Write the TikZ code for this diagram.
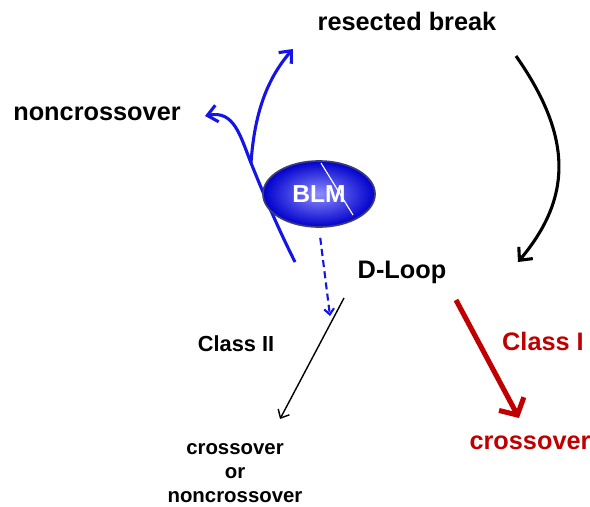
\documentclass[tikz,border=0pt]{standalone}
\usepackage{fontspec}
\setmainfont{Liberation Sans}
\usetikzlibrary{arrows.meta, shapes.geometric}

\definecolor{blmblue}{RGB}{20,20,230}
\definecolor{blmedge}{RGB}{60,60,120}
\definecolor{classred}{RGB}{192,0,0}

\begin{document}
\begin{tikzpicture}[
        x=0.025cm, y=-0.025cm,
        lbl/.style={font=\fontsize{18}{21}\selectfont\bfseries, inner sep=0pt, anchor=base},
        strand/.style={blmblue, line width=2.2pt, -{Straight Barb[length=7pt,width=12pt]}}
        ]
    \useasboundingbox (0,0) rectangle (590,506);

    % Define label nodes
    \node[lbl] (rb) at (407,30) {resected break};
    \node[lbl] (nco) at (97,120) {noncrossover};
    \node[lbl] (dl) at (402,278) {D-Loop};
    \node[lbl, font=\fontsize{15.5}{18}\selectfont\bfseries] (c2) at (236,351) {Class II};
    \node[font=\fontsize{14.5}{17}\selectfont\bfseries, inner sep=0pt, align=center] (co2) at (235,473) {crossover\\or\\noncrossover};
    \node[lbl, classred] (c1) at (543,350) {Class I};
    \node[lbl, classred] (co1) at (530,449) {crossover};

    % Define free ends of the arrows
    \coordinate (rbs) at (516,56);
    \coordinate (rbe) at (518,262);
    \coordinate (s0) at (295,262);
    \coordinate (br) at (251,163);
    \coordinate (nce) at (205,116);
    \coordinate (up) at (293,49);
    \coordinate (dtip) at (330,316);
    \coordinate (c2s) at (344,298);
    \coordinate (c2e) at (280,419);
    \coordinate (c1s) at (456,300);
    \coordinate (c1e) at (519,418);

    % Draw the resection arrow
    \draw[line width=2.2pt, -{Straight Barb[length=7pt,width=13pt]}] (rbs) .. controls (575,140) and (570,200) .. (rbe);

    % Draw the blue strands
    \draw[strand] (s0) .. controls (275,222) and (262,190) .. (br) .. controls (240,135) and (234,110) .. (nce);
    \draw[strand] (br) .. controls (254,120) and (264,82) .. (up);

    % Define BLM node
    \node[ellipse, minimum width=2.8cm, minimum height=1.65cm, draw=blmedge, line width=1.2pt,
          inner color=blue!45!white, outer color=blue!80!black, text=white,
          font=\fontsize{17.5}{20}\selectfont\bfseries] (blm) at (319,194) {BLM};
    \draw[white, line width=0.8pt] (321,163) -- (353,215);

    % Draw the resolution arrows
    \draw[blmblue, line width=1.5pt, dash pattern=on 5pt off 3pt, shorten <=0.25cm,
          -{Straight Barb[length=4pt,width=7pt]}] (blm.south) -- (dtip);
    \draw[line width=1pt, -{Straight Barb[length=5pt,width=9pt]}] (c2s) -- (c2e);
    \draw[classred, line width=3.6pt, -{Straight Barb[length=9pt,width=20pt]}] (c1s) -- (c1e);

\end{tikzpicture}
\end{document}
